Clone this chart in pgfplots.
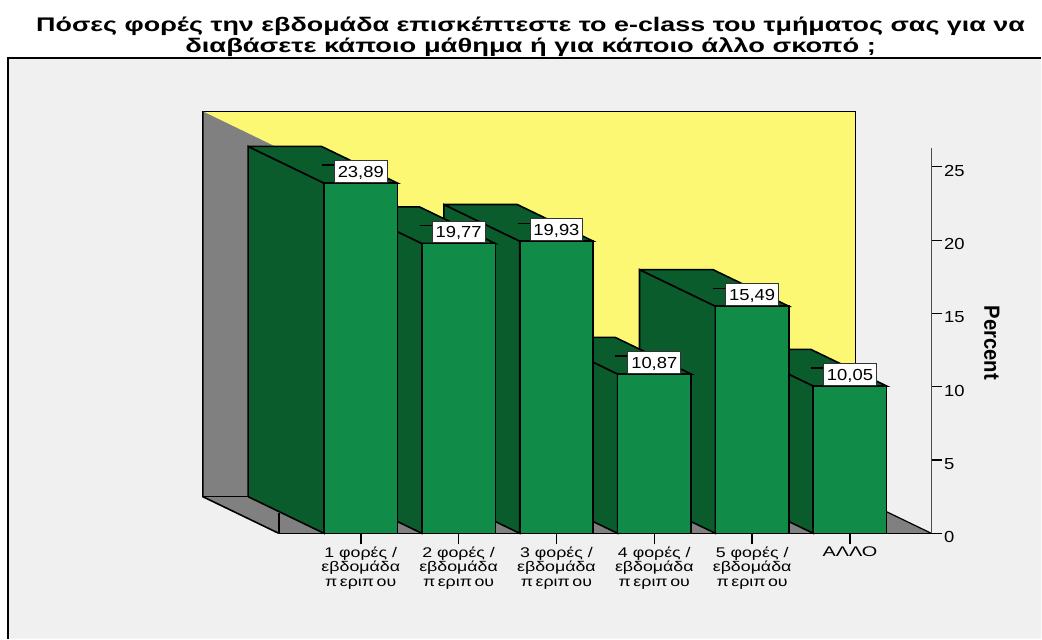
\documentclass[border=0pt]{standalone}
\usepackage{fontspec}
\setmainfont{Liberation Sans}
\usepackage{graphicx}
\usepackage{pgfplots}
\usepackage{pgfplotstable}
\pgfplotsset{compat=1.18}

\definecolor{panel}{HTML}{F0F0F0}
\definecolor{wall}{HTML}{FDF873}
\definecolor{sidegray}{HTML}{808080}
\definecolor{barfront}{HTML}{108C48}
\definecolor{barside}{HTML}{0A5C2D}

\pgfplotstableread{
cat val lab
0 23.89 23,89
1 19.77 19,77
2 19.93 19,93
3 10.87 10,87
4 15.49 15,49
5 10.05 10,05
}\bars

% one bar: category, value (depth is 0.776 in x and 2.5 in y)
\newcommand\barthree[2]{%
  \pgfmathsetmacro\xl{#1-0.375}%
  \pgfmathsetmacro\xr{#1+0.375}%
  \pgfmathsetmacro\xbl{\xl-0.776}%
  \pgfmathsetmacro\xbr{\xr-0.776}%
  \pgfmathsetmacro\yb{#2+2.5}%
  \pgfmathsetmacro\ll{#1-0.398}%
  \pgfmathsetmacro\lr{#1-0.27}%
  \pgfmathsetmacro\ly{#2+1.23}%
  \edef\tmp{%
    \noexpand\addplot[face,fill=barside] coordinates {(\xbl,2.5) (\xl,0) (\xl,#2) (\xbl,\yb) (\xbl,2.5)};
    \noexpand\addplot[face,fill=barside] coordinates {(\xbl,\yb) (\xbr,\yb) (\xr,#2) (\xl,#2) (\xbl,\yb)};
    \noexpand\addplot[face,fill=barfront] coordinates {(\xl,0) (\xr,0) (\xr,#2) (\xl,#2) (\xl,0)};
    \noexpand\addplot[leader] coordinates {(\ll,\ly) (\lr,\ly)};
  }\tmp}

\begin{document}
\begin{tikzpicture}
\begin{axis}[
  at={(0pt,0pt)},anchor=south west,
  scale only axis,width=653pt,height=385.4pt,
  xmin=-0.8376,xmax=5.832,ymin=0,ymax=26.27,
  clip=false,axis on top,
  axis x line*=bottom,axis y line*=right,
  y axis line style={draw=black!70,line width=1.1pt},
  x axis line style={draw=black,line width=1.5pt},
  tick align=outside,
  major tick length=11pt,
  tick style={black,line width=1.2pt},
  xtick={0,1,2,3,4,5},
  xticklabels={{1 φορές /\\εβδομάδα\\π\kern2pt εριπ\kern2pt ου},{2 φορές /\\εβδομάδα\\π\kern2pt εριπ\kern2pt ου},{3 φορές /\\εβδομάδα\\π\kern2pt εριπ\kern2pt ου},{4 φορές /\\εβδομάδα\\π\kern2pt εριπ\kern2pt ου},{5 φορές /\\εβδομάδα\\π\kern2pt εριπ\kern2pt ου},{\scalebox{1.12}[1]{ΑΛΛΟ}}},
  x tick label style={align=center,font=\fontsize{14}{14.4}\selectfont,xscale=1.27,yshift=1pt},
  x tick style={line width=1.5pt},
  ytick={0,5,10,15,20,25},
  /pgf/number format/assume math mode=true,
  y tick label style={font=\fontsize{16}{18}\selectfont,xscale=1.15,xshift=-2pt,yshift=-4pt},
  ylabel={\scalebox{0.92}[1]{\textbf{Percent}}},
  every axis y label/.style={at={(axis cs:6.45,13)},anchor=center,rotate=-90,font=\fontsize{22}{24}\selectfont},
  face/.style={draw=black,line width=1.6pt,line join=miter,forget plot},
  leader/.style={draw=black,line width=1.2pt,forget plot},
]
% panel
\addplot[fill=panel,draw=none,forget plot] coordinates {(-3.606,32.42) (6.956,32.42) (6.956,-7.18) (-3.606,-7.18) (-3.606,32.42)};
\addplot[draw=black,line width=1.3pt,forget plot] coordinates {(-3.606,-7.18) (-3.606,32.42) (6.956,32.42)};
% walls and floor
\addplot[face,fill=wall] coordinates {(-1.614,28.78) (5.056,28.78) (5.056,2.5) (-1.614,2.5) (-1.614,28.78)};
\addplot[face,fill=sidegray,draw=none] coordinates {(-1.614,28.78) (-0.8376,26.27) (-0.8376,0) (-1.614,2.5) (-1.614,28.78)};
\addplot[face,fill=sidegray,draw=none] coordinates {(-1.614,2.5) (-0.8376,0) (5.832,0) (5.056,2.5) (-1.614,2.5)};
\addplot[face] coordinates {(-1.614,28.78) (-1.614,2.5) (-0.8376,0)};
\addplot[face] coordinates {(-1.614,2.5) (-1.1,2.5)};
\addplot[face] coordinates {(-0.8376,0) (-0.8376,1.4)};
\addplot[face,line width=1.2pt] coordinates {(5.056,2.5) (5.832,0)};
% bars, back ones first
\barthree{5}{10.05}
\barthree{4}{15.49}
\barthree{3}{10.87}
\barthree{2}{19.93}
\barthree{1}{19.77}
\barthree{0}{23.89}
% value boxes
\addplot[draw=none,mark=none,forget plot,
  nodes near coords,point meta=explicit symbolic,
  every node near coord/.style={anchor=south,fill=white,draw=black!80,line width=1pt,
    minimum width=46pt,minimum height=22pt,inner sep=0pt,xscale=1.15,
    text height=11.7pt,text depth=0pt,
    font=\fontsize{16}{18}\selectfont,text=black}]
  table[x=cat,y=val,meta=lab] {\bars};
% title
\node[align=center,font=\bfseries\fontsize{19.7}{20.5}\selectfont,xscale=1.366,anchor=center] at (axis cs:1.735,33.88)
  {Πόσες φορές την εβδομάδα επισκέπτεστε το e-class του τμήματος σας για να\\\scalebox{1.016}[1]{διαβάσετε κάποιο μάθημα ή για κάποιο άλλο σκοπό ;}};
\end{axis}
\path[use as bounding box] (-279pt,-105.3pt) rectangle (763pt,533.7pt);
\end{tikzpicture}
\end{document}
